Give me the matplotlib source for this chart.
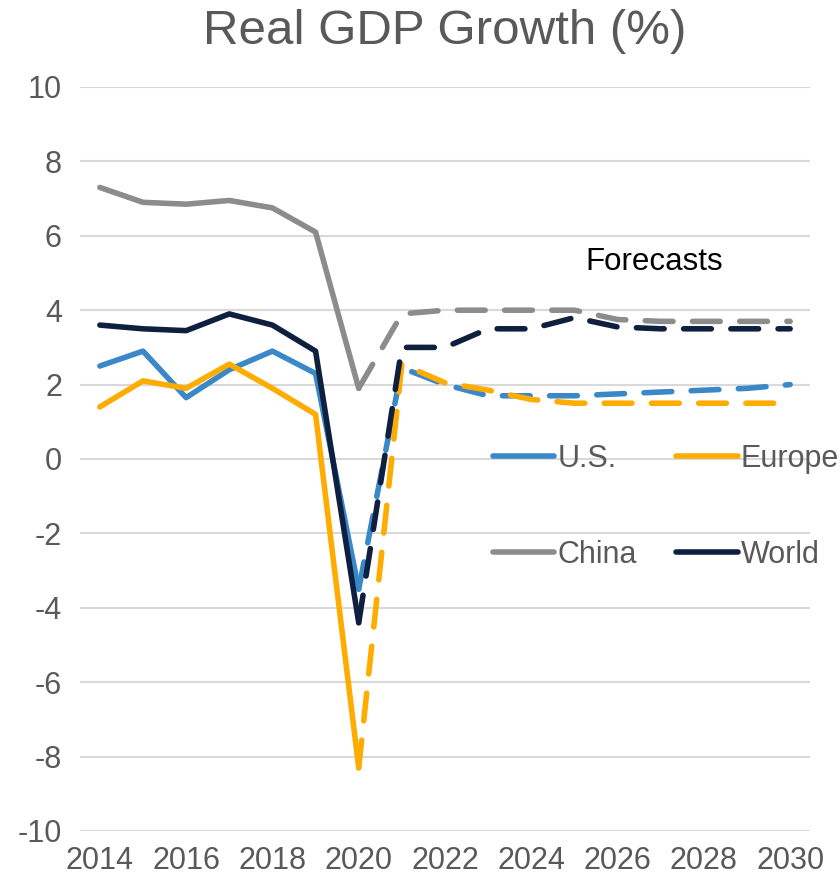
import matplotlib
matplotlib.use("Agg")
import matplotlib.pyplot as plt
from matplotlib.lines import Line2D

plt.rcParams['font.family'] = ['Liberation Sans', 'DejaVu Sans']

hist_years = [2014, 2015, 2016, 2017, 2018, 2019, 2020]
fc_years = [2020, 2021, 2022, 2023, 2024, 2025, 2026, 2027, 2028, 2029, 2030]

us_hist = [2.5, 2.9, 1.65, 2.4, 2.9, 2.3, -3.5]
us_fc = [-3.5, 2.45, 2.0, 1.7, 1.7, 1.7, 1.75, 1.8, 1.85, 1.9, 2.0]
eu_hist = [1.4, 2.1, 1.9, 2.55, 1.9, 1.2, -8.3]
eu_fc = [-8.3, 2.55, 2.05, 1.85, 1.6, 1.5, 1.5, 1.5, 1.5, 1.5, 1.5]
cn_hist = [7.3, 6.9, 6.85, 6.95, 6.75, 6.1, 1.9]
cn_fc = [1.9, 3.9, 4.0, 4.0, 4.0, 4.0, 3.75, 3.7, 3.7, 3.7, 3.7]
wd_hist = [3.6, 3.5, 3.45, 3.9, 3.6, 2.9, -4.4]
wd_fc = [-4.4, 3.0, 3.0, 3.5, 3.5, 3.8, 3.55, 3.5, 3.5, 3.5, 3.5]

names = ["U.S.", "Europe", "China", "World"]
colors = ["#3A88C8", "#FFAC00", "#8C8C8C", "#0E1F40"]
hists = [us_hist, eu_hist, cn_hist, wd_hist]
fcs = [us_fc, eu_fc, cn_fc, wd_fc]

xticks = list(range(2014, 2031, 2))
yticks = list(range(-10, 11, 2))

fig = plt.figure(figsize=(8.4, 8.85), dpi=100)
ax = fig.add_axes([80/840, 1-831/885, 730/840, 744/885])

lw = 4.0
for i, (n, c, h, f) in enumerate(zip(names, colors, hists, fcs)):
    ax.plot(hist_years, h, color=c, lw=lw, solid_capstyle='round', solid_joinstyle='round', zorder=3+i)
    ax.plot(fc_years, f, color=c, lw=lw, dashes=(5, 3.5), dash_capstyle='round', dash_joinstyle='round', zorder=3+i)

ax.set_xlim(2013.54, 2030.46)
ax.set_ylim(-10, 10)
ax.set_xticks(xticks)
ax.set_yticks(yticks)
ax.set_yticklabels([str(t) for t in yticks])
ax.tick_params(length=0, labelsize=22, labelcolor="#595959")
ax.tick_params(axis='y', pad=13)
ax.tick_params(axis='x', pad=11)
ax.grid(axis='y', color="#D9D9D9", lw=1.5, zorder=0)
for s in ax.spines.values():
    s.set_visible(False)

ax.set_title("Real GDP Growth (%)", fontsize=35.5, color="#595959", pad=31)
ax.text(2025.25, 5.3, "Forecasts", fontsize=22.5, color="black", ha='left', va='center')

order = [0, 2, 1, 3]
handles = [Line2D([0], [0], color=colors[k], lw=lw, solid_capstyle='round') for k in order]
labels = [names[k] for k in order]
leg = ax.legend(handles, labels, ncol=2, loc='upper left',
                bbox_to_anchor=(493/840, 1-444/885), bbox_transform=fig.transFigure,
                frameon=False, fontsize=22, labelcolor="#595959",
                handlelength=2.0, handletextpad=0.1, columnspacing=1.3,
                labelspacing=2.15, borderpad=0, borderaxespad=0)

fig.savefig("out.png", dpi=100)
